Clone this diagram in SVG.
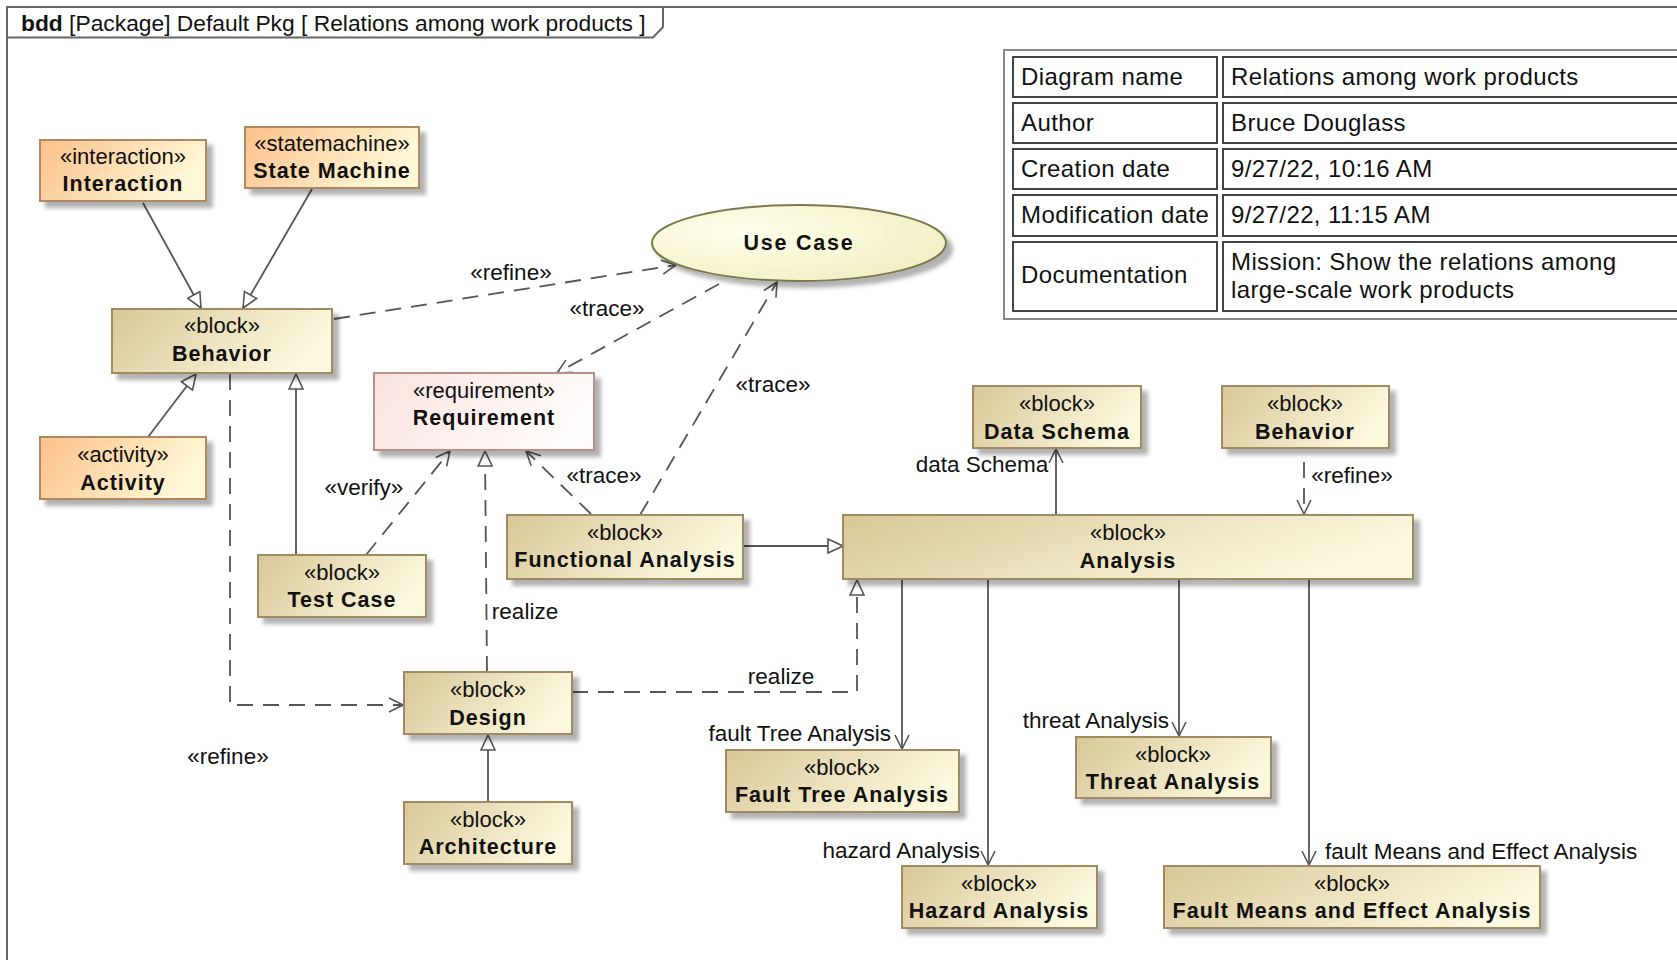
<svg xmlns="http://www.w3.org/2000/svg" width="1677" height="960" viewBox="0 0 1677 960">
<defs>
<linearGradient id="gBlock" x1="0" y1="0" x2="1" y2="0.3"><stop offset="0" stop-color="#D8C797"/><stop offset="1" stop-color="#FCF8DD"/></linearGradient>
<linearGradient id="gOrange" x1="0" y1="0" x2="1" y2="0.3"><stop offset="0" stop-color="#FCC08A"/><stop offset="1" stop-color="#FFF8D6"/></linearGradient>
<linearGradient id="gReq" x1="0" y1="0" x2="1" y2="0.3"><stop offset="0" stop-color="#F9E2DE"/><stop offset="1" stop-color="#FFFCFB"/></linearGradient>
<radialGradient id="gUC" cx="0.3" cy="0.35" r="0.8"><stop offset="0" stop-color="#FFFFEC"/><stop offset="1" stop-color="#F1EEC0"/></radialGradient>
<filter id="sh" x="-10%" y="-10%" width="130%" height="140%"><feDropShadow dx="6" dy="6" stdDeviation="2" flood-color="#000" flood-opacity="0.3"/></filter>
<marker id="gen" viewBox="0 0 17 16" refX="16" refY="8" markerWidth="17" markerHeight="16" markerUnits="userSpaceOnUse" orient="auto"><path d="M1,1 L16,8 L1,15 Z" fill="#fff" stroke="#555" stroke-width="1.6"/></marker>
<marker id="open" viewBox="0 0 16 16" refX="15" refY="8" markerWidth="16" markerHeight="16" markerUnits="userSpaceOnUse" orient="auto"><path d="M1,1 L15,8 L1,15" fill="none" stroke="#555" stroke-width="1.6"/></marker>
</defs>
<style>
.t{font-family:"Liberation Sans",Arial,sans-serif;fill:#111}
.st{font-size:22px;text-anchor:middle}
.nm{font-size:21.5px;font-weight:bold;text-anchor:middle;letter-spacing:1px}
.lb{font-size:22.5px}
.tb{font-size:24px;letter-spacing:0.4px}
.blk{fill:url(#gBlock);stroke:#A08A62;stroke-width:2;filter:url(#sh)}
.org{fill:url(#gOrange);stroke:#B08860;stroke-width:2;filter:url(#sh)}
.req{fill:url(#gReq);stroke:#B89088;stroke-width:2;filter:url(#sh)}
.ln{fill:none;stroke:#555;stroke-width:1.8}
.ds{fill:none;stroke:#555;stroke-width:1.8;stroke-dasharray:16 10}
.cell{fill:#fff;stroke:#444;stroke-width:2}
</style>
<rect width="1677" height="960" fill="#fff"/>
<g id="frame">
<rect x="7" y="7" width="1700" height="1000" fill="none" stroke="#666" stroke-width="2"/>
<path d="M7,37.5 H653 L663,27 V7" fill="none" stroke="#666" stroke-width="2"/>
<text class="t" x="21" y="31" font-size="22.8"><tspan font-weight="bold">bdd</tspan> [Package] Default Pkg [ Relations among work products ]</text>
</g>
<g id="table">
<rect x="1004" y="50" width="700" height="269" fill="#fff" stroke="#888" stroke-width="2"/>
<rect class="cell" x="1013" y="57" width="204" height="40"/><rect class="cell" x="1223" y="57" width="480" height="40"/>
<rect class="cell" x="1013" y="103" width="204" height="40"/><rect class="cell" x="1223" y="103" width="480" height="40"/>
<rect class="cell" x="1013" y="149" width="204" height="40"/><rect class="cell" x="1223" y="149" width="480" height="40"/>
<rect class="cell" x="1013" y="195" width="204" height="41"/><rect class="cell" x="1223" y="195" width="480" height="41"/>
<rect class="cell" x="1013" y="242" width="204" height="69"/><rect class="cell" x="1223" y="242" width="480" height="69"/>
<text class="t tb" x="1021" y="85">Diagram name</text><text class="t tb" x="1231" y="85">Relations among work products</text>
<text class="t tb" x="1021" y="131">Author</text><text class="t tb" x="1231" y="131">Bruce Douglass</text>
<text class="t tb" x="1021" y="177">Creation date</text><text class="t tb" x="1231" y="177">9/27/22, 10:16 AM</text>
<text class="t tb" x="1021" y="223">Modification date</text><text class="t tb" x="1231" y="223">9/27/22, 11:15 AM</text>
<text class="t tb" x="1021" y="283">Documentation</text><text class="t tb" x="1231" y="270">Mission: Show the relations among</text><text class="t tb" x="1231" y="298">large-scale work products</text>
</g>
<g id="connectors">
<line class="ln" x1="143" y1="203" x2="201" y2="308" marker-end="url(#gen)"/>
<line class="ln" x1="312" y1="189" x2="243" y2="308" marker-end="url(#gen)"/>
<line class="ln" x1="148" y1="437" x2="196" y2="374" marker-end="url(#gen)"/>
<line class="ln" x1="296" y1="555" x2="296" y2="374" marker-end="url(#gen)"/>
<line class="ds" x1="334" y1="319" x2="676" y2="265" marker-end="url(#open)"/>
<line class="ds" x1="719" y1="284" x2="557" y2="373" marker-end="url(#open)"/>
<line class="ds" x1="640" y1="515" x2="777" y2="282" marker-end="url(#open)"/>
<line class="ds" x1="591" y1="514" x2="526" y2="451" marker-end="url(#open)"/>
<line class="ds" x1="366" y1="555" x2="450" y2="451" marker-end="url(#open)"/>
<line class="ds" x1="487" y1="672" x2="485" y2="451" marker-end="url(#gen)"/>
<path class="ds" d="M230,374 V705 H403" marker-end="url(#open)"/>
<line class="ln" x1="488" y1="802" x2="488" y2="735" marker-end="url(#gen)"/>
<path class="ds" d="M572,692 H857 V580" marker-end="url(#gen)"/>
<line class="ln" x1="743" y1="546" x2="843" y2="546" marker-end="url(#gen)"/>
<line class="ln" x1="1056" y1="515" x2="1056" y2="449" marker-end="url(#open)"/>
<line class="ds" x1="1304" y1="462" x2="1304" y2="514" marker-end="url(#open)"/>
<line class="ln" x1="902" y1="580" x2="902" y2="749" marker-end="url(#open)"/>
<line class="ln" x1="988" y1="580" x2="988" y2="865" marker-end="url(#open)"/>
<line class="ln" x1="1179" y1="580" x2="1179" y2="736" marker-end="url(#open)"/>
<line class="ln" x1="1309" y1="580" x2="1309" y2="865" marker-end="url(#open)"/>
<text class="t lb" x="511" y="280" text-anchor="middle">«refine»</text>
<text class="t lb" x="607" y="316" text-anchor="middle">«trace»</text>
<text class="t lb" x="773" y="392" text-anchor="middle">«trace»</text>
<text class="t lb" x="604" y="483" text-anchor="middle">«trace»</text>
<text class="t lb" x="364" y="495" text-anchor="middle">«verify»</text>
<text class="t lb" x="525" y="619" text-anchor="middle">realize</text>
<text class="t lb" x="228" y="764" text-anchor="middle">«refine»</text>
<text class="t lb" x="781" y="684" text-anchor="middle">realize</text>
<text class="t lb" x="982" y="472" text-anchor="middle">data Schema</text>
<text class="t lb" x="1352" y="483" text-anchor="middle">«refine»</text>
<text class="t lb" x="891" y="741" text-anchor="end">fault Tree Analysis</text>
<text class="t lb" x="980" y="858" text-anchor="end">hazard Analysis</text>
<text class="t lb" x="1169" y="728" text-anchor="end">threat Analysis</text>
<text class="t lb" x="1325" y="859">fault Means and Effect Analysis</text>
</g>
<g id="interaction"><rect class="org" x="40" y="140" width="166" height="61"/><text class="t st" x="123" y="164">«interaction»</text><text class="t nm" x="123" y="191">Interaction</text></g>
<g id="statemachine"><rect class="org" x="245" y="127" width="174" height="61"/><text class="t st" x="332" y="151">«statemachine»</text><text class="t nm" x="332" y="178">State Machine</text></g>
<g id="behavior-left"><rect class="blk" x="112" y="309" width="220" height="64"/><text class="t st" x="222" y="333">«block»</text><text class="t nm" x="222" y="361">Behavior</text></g>
<g id="activity"><rect class="org" x="40" y="437" width="166" height="62"/><text class="t st" x="123" y="462">«activity»</text><text class="t nm" x="123" y="490">Activity</text></g>
<g id="requirement"><rect class="req" x="374" y="373" width="220" height="77"/><text class="t st" x="484" y="398">«requirement»</text><text class="t nm" x="484" y="425">Requirement</text></g>
<g id="usecase"><ellipse cx="799" cy="243" rx="147" ry="38" fill="url(#gUC)" stroke="#7A7A4E" stroke-width="2" filter="url(#sh)"/><text class="t nm" x="799" y="250" style="letter-spacing:1.8px">Use Case</text></g>
<g id="testcase"><rect class="blk" x="258" y="555" width="168" height="62"/><text class="t st" x="342" y="580">«block»</text><text class="t nm" x="342" y="607">Test Case</text></g>
<g id="functional-analysis"><rect class="blk" x="507" y="515" width="236" height="64"/><text class="t st" x="625" y="540">«block»</text><text class="t nm" x="625" y="567">Functional Analysis</text></g>
<g id="design"><rect class="blk" x="404" y="672" width="168" height="62"/><text class="t st" x="488" y="697">«block»</text><text class="t nm" x="488" y="725">Design</text></g>
<g id="architecture"><rect class="blk" x="404" y="802" width="168" height="62"/><text class="t st" x="488" y="827">«block»</text><text class="t nm" x="488" y="854">Architecture</text></g>
<g id="data-schema"><rect class="blk" x="973" y="386" width="168" height="62"/><text class="t st" x="1057" y="411">«block»</text><text class="t nm" x="1057" y="439">Data Schema</text></g>
<g id="behavior-right"><rect class="blk" x="1222" y="386" width="167" height="62"/><text class="t st" x="1305" y="411">«block»</text><text class="t nm" x="1305" y="439">Behavior</text></g>
<g id="analysis"><rect class="blk" x="843" y="515" width="570" height="64"/><text class="t st" x="1128" y="540">«block»</text><text class="t nm" x="1128" y="568">Analysis</text></g>
<g id="fault-tree"><rect class="blk" x="726" y="750" width="233" height="62"/><text class="t st" x="842" y="775">«block»</text><text class="t nm" x="842" y="802">Fault Tree Analysis</text></g>
<g id="threat"><rect class="blk" x="1076" y="737" width="195" height="61"/><text class="t st" x="1173" y="762">«block»</text><text class="t nm" x="1173" y="789">Threat Analysis</text></g>
<g id="hazard"><rect class="blk" x="902" y="866" width="195" height="62"/><text class="t st" x="999" y="891">«block»</text><text class="t nm" x="999" y="918">Hazard Analysis</text></g>
<g id="fmea"><rect class="blk" x="1164" y="866" width="376" height="62"/><text class="t st" x="1352" y="891">«block»</text><text class="t nm" x="1352" y="918">Fault Means and Effect Analysis</text></g>
</svg>
